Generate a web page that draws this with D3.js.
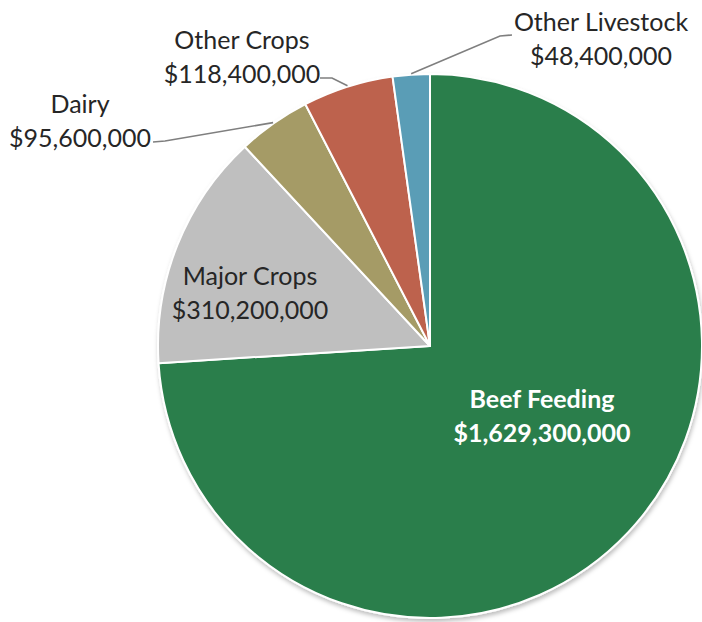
<!DOCTYPE html>
<html>
<head>
<meta charset="utf-8">
<script src="https://cdn.jsdelivr.net/npm/d3@7"></script>
<style>
  html, body { margin: 0; padding: 0; background: #ffffff; }
  svg { display: block; }
</style>
</head>
<body>
<svg id="chart" width="702" height="622"></svg>
<script>
// ---- data ----
const categories = ["Beef Feeding", "Major Crops", "Dairy", "Other Crops", "Other Livestock"];
const values = [1629300000, 310200000, 95600000, 118400000, 48400000];
const valueLabels = ["$1,629,300,000", "$310,200,000", "$95,600,000", "$118,400,000", "$48,400,000"];

// ---- styling / layout (not data) ----
const colors = ["#2a7e4b", "#bfbfbf", "#a59b66", "#bd624d", "#5a9db6"];
const labelLayout = [
  { x: 542, y: 399, inside: true, color: "#ffffff", weight: "bold" },
  { x: 250, y: 276, inside: true, color: "#262626", weight: "normal" },
  { x: 80,  y: 104, inside: false, color: "#262626", weight: "normal", elbow: [165, 141], end: [153, 142] },
  { x: 242, y: 40,  inside: false, color: "#262626", weight: "normal", elbow: [332, 78], end: [320, 78] },
  { x: 601, y: 22,  inside: false, color: "#262626", weight: "normal", elbow: [500, 36], end: [512, 35] }
];

const cx = 430, cy = 346, R = 272;
const fontSize = 25, lineGap = 34;

const svg = d3.select("#chart");
const defs = svg.append("defs");
const f = defs.append("filter").attr("id", "shadow")
  .attr("x", "-10%").attr("y", "-10%").attr("width", "120%").attr("height", "120%");
f.append("feDropShadow").attr("dx", 1).attr("dy", 3).attr("stdDeviation", 2)
  .attr("flood-color", "#000").attr("flood-opacity", 0.25);

const pie = d3.pie().sort(null).value(d => d)(values);
const arc = d3.arc().innerRadius(0).outerRadius(R);

const g = svg.append("g").attr("transform", `translate(${cx},${cy})`);
const slices = g.append("g").attr("filter", "url(#shadow)");
slices.selectAll("path").data(pie).join("path")
  .attr("d", arc)
  .attr("fill", (d, i) => colors[i])
  .attr("stroke", "#ffffff")
  .attr("stroke-width", 2)
  .attr("stroke-linejoin", "round");

// leader lines
pie.forEach((d, i) => {
  const L = labelLayout[i];
  if (L.inside) return;
  const mid = (d.startAngle + d.endAngle) / 2;
  const sx = cx + Math.sin(mid) * (R + 1);
  const sy = cy - Math.cos(mid) * (R + 1);
  svg.append("polyline")
    .attr("points", [[sx, sy], L.elbow, L.end].map(p => p.join(",")).join(" "))
    .attr("fill", "none")
    .attr("stroke", "#7f7f7f")
    .attr("stroke-width", 1.6);
});

// labels
categories.forEach((c, i) => {
  const L = labelLayout[i];
  const t = svg.append("text")
    .attr("text-anchor", "middle")
    .attr("font-family", "Lato, 'Open Sans', sans-serif")
    .attr("font-size", fontSize)
    .attr("font-weight", L.weight)
    .attr("fill", L.color);
  t.append("tspan").attr("x", L.x).attr("y", L.y).attr("dy", "0.35em").text(c);
  t.append("tspan").attr("x", L.x).attr("y", L.y + lineGap).attr("dy", "0.35em").text(valueLabels[i]);
});
</script>
</body>
</html>
